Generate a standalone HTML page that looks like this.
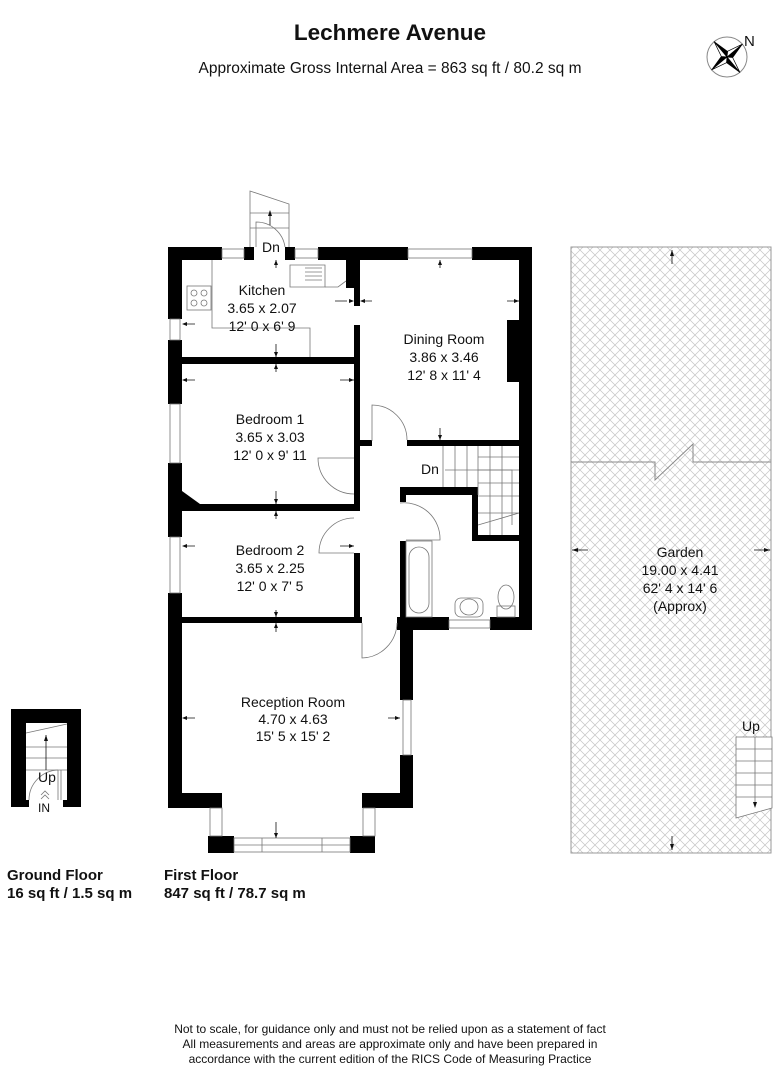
<!DOCTYPE html>
<html><head><meta charset="utf-8"><style>
html,body{margin:0;padding:0;background:#fff;}
svg{display:block}
text{font-family:"Liberation Sans",sans-serif;fill:#111}
</style></head><body>
<svg width="781" height="1080" viewBox="0 0 781 1080" xmlns="http://www.w3.org/2000/svg">
<defs>
<pattern id="hatch" width="10" height="10" patternUnits="userSpaceOnUse">
<path d="M0 0L10 10M10 0L0 10" stroke="#c4c4c4" stroke-width="0.7"/>
</pattern>
</defs>
<text x="390" y="40" font-size="22.5" font-weight="bold" text-anchor="middle">Lechmere Avenue</text>
<text x="390" y="73" font-size="15.5" text-anchor="middle">Approximate Gross Internal Area = 863 sq ft / 80.2 sq m</text>
<!-- compass -->
<circle cx="727" cy="57" r="20" fill="none" stroke="#888" stroke-width="1"/>
<g transform="translate(727 57) rotate(50)" stroke="#000" stroke-width="0.7" stroke-linejoin="round">
<path d="M0 -20L4 -4L0 0z" fill="#000"/><path d="M0 -20L-4 -4L0 0z" fill="#fff"/>
<path d="M20 0L4 4L0 0z" fill="#000"/><path d="M20 0L4 -4L0 0z" fill="#fff"/>
<path d="M0 20L-4 4L0 0z" fill="#000"/><path d="M0 20L4 4L0 0z" fill="#fff"/>
<path d="M-20 0L-4 -4L0 0z" fill="#000"/><path d="M-20 0L-4 4L0 0z" fill="#fff"/>
</g>
<text x="744" y="46" font-size="15">N</text>

<!-- garden -->
<rect x="571" y="247" width="200" height="606" fill="url(#hatch)" stroke="#999" stroke-width="1"/>
<path d="M571 462H655V480L693 444V462H771" fill="none" stroke="#888" stroke-width="1"/>
<line x1="672" y1="250" x2="672" y2="264" stroke="#111" stroke-width="0.8"/>
<path d="M672 250l-2 6h4z" fill="#111"/>
<line x1="672" y1="836" x2="672" y2="850" stroke="#111" stroke-width="0.8"/>
<path d="M672 850l-2-6h4z" fill="#111"/>
<path d="M572 550l6-2v4zM770 550l-6-2v4z" fill="#111"/>
<line x1="572" y1="550" x2="588" y2="550" stroke="#111" stroke-width="0.8"/>
<line x1="770" y1="550" x2="754" y2="550" stroke="#111" stroke-width="0.8"/>
<g font-size="14" text-anchor="middle">
<text x="680" y="557">Garden</text>
<text x="680" y="575">19.00 x 4.41</text>
<text x="680" y="593">62' 4 x 14' 6</text>
<text x="680" y="611">(Approx)</text>
</g>
<g fill="#fff" stroke="#777" stroke-width="0.8">
<path d="M736 737H772V808L736 818z"/>
<path d="M736 749H772M736 761H772M736 773H772M736 785H772M736 797H772M755 737V805" fill="none"/>
</g>
<path d="M755 808l-2-6h4z" fill="#111"/>
<text x="742" y="731" font-size="14">Up</text>

<!-- first floor -->
<g fill="#000">
<rect x="168" y="247" width="54" height="13"/>
<rect x="244" y="247" width="10" height="13"/>
<rect x="285" y="247" width="10" height="13"/>
<rect x="318" y="247" width="90" height="13"/>
<rect x="472" y="247" width="60" height="13"/>
<rect x="168" y="247" width="14" height="72"/>
<rect x="168" y="340" width="14" height="64"/>
<rect x="168" y="463" width="14" height="74"/>
<rect x="168" y="593" width="14" height="215"/>
<rect x="168" y="793" width="54" height="15"/>
<rect x="519" y="247" width="13" height="383"/>
<rect x="507" y="320" width="13" height="62"/>
<rect x="346" y="260" width="14" height="28"/>
<rect x="354" y="288" width="6" height="18"/>
<rect x="354" y="325" width="6" height="178"/>
<rect x="182" y="357" width="178" height="7"/>
<rect x="360" y="440" width="12" height="6"/>
<rect x="407" y="440" width="113" height="6"/>
<path d="M182 491L200 504H354V511H182z"/>
<rect x="354" y="497" width="6" height="14"/>
<rect x="354" y="553" width="6" height="64"/>
<rect x="182" y="617" width="180" height="6"/>
<rect x="400" y="487" width="72" height="8"/>
<rect x="400" y="487" width="6" height="15"/>
<rect x="400" y="541" width="6" height="90"/>
<rect x="472" y="487" width="6" height="54"/>
<rect x="472" y="535" width="48" height="6"/>
<rect x="397" y="617" width="52" height="13"/>
<rect x="490" y="617" width="42" height="13"/>
<rect x="400" y="627" width="13" height="73"/>
<rect x="400" y="755" width="13" height="53"/>
<rect x="362" y="793" width="51" height="15"/>
<rect x="208" y="836" width="26" height="17"/>
<rect x="350" y="836" width="25" height="17"/>
</g>
<g fill="#fff" stroke="#777" stroke-width="0.8">
<rect x="222" y="249" width="22" height="9"/>
<rect x="295" y="249" width="23" height="9"/>
<rect x="408" y="249" width="64" height="9"/>
<rect x="170" y="319" width="10" height="21"/>
<rect x="170" y="404" width="10" height="59"/>
<rect x="170" y="537" width="10" height="56"/>
<rect x="403" y="700" width="8" height="55"/>
<rect x="449" y="620" width="41" height="8"/>
<rect x="210" y="808" width="12" height="28"/>
<rect x="363" y="808" width="12" height="28"/>
<rect x="234" y="838" width="116" height="14"/>
<path d="M234 845H350M262 838V852M322 838V852" fill="none"/>
</g>
<g fill="none" stroke="#777" stroke-width="0.8">
<path d="M212 260V328H310V357"/>
<path d="M290 265H325V287H290z M305 268H322M305 272H322M305 276H322M305 280H322"/>
<path d="M325 287H338L346 281"/>
<rect x="187" y="286" width="24" height="24"/>
<circle cx="194" cy="293" r="3"/><circle cx="204" cy="293" r="3"/><circle cx="194" cy="303" r="3"/><circle cx="204" cy="303" r="3"/>
<path d="M250 247V191L289 204V247M250 213H289M250 228H289"/>
<path d="M256 247V222A29 29 0 0 1 285 247"/>
<path d="M372 441V405A35 35 0 0 1 407 440"/>
<path d="M354 458H318A36 36 0 0 0 354 494"/>
<path d="M400 503A36 36 0 0 1 440 540H406"/>
<path d="M354 553H319A35 35 0 0 1 354 518"/>
<path d="M362 623V658A36 36 0 0 0 397 623"/>
<path d="M443 446V487M455 446V487M467 446V487M478 446V495M490 446V535M502 446V535M478 457H519M478 470H519M478 483H519M478 496H519M478 513H519M478 525L519 513"/>
<path d="M445 470H512V525"/>
<rect x="406" y="541" width="26" height="76"/>
<rect x="409" y="547" width="20" height="66" rx="10"/>
<rect x="455" y="598" width="28" height="19" rx="6"/>
<ellipse cx="469" cy="607" rx="9" ry="8"/>
<ellipse cx="506" cy="597" rx="8" ry="12"/>
<rect x="497" y="606" width="18" height="11"/>
</g>
<g stroke="#111" stroke-width="0.8" fill="none">
<path d="M276 260V268M276 344V357M276 364V372M276 491V504M276 511V519M276 610V617M276 623V632M276 822V838M440 260V268M440 428V440M185 380H195M340 380H354M185 546H195M340 546H354M185 718H195M388 718H400M185 324H195M335 301H347M363 301H372M507 301H519M270 211V225"/>
</g>
<g fill="#111">
<path d="M276 260l-2 5h4zM276 357l-2-5h4zM276 364l-2 5h4zM276 504l-2-5h4zM276 511l-2 5h4zM276 617l-2-5h4zM276 623l-2 5h4zM276 838l-2-5h4zM440 260l-2 5h4zM440 440l-2-5h4zM182 380l5-2v4zM354 380l-5-2v4zM182 546l5-2v4zM354 546l-5-2v4zM182 718l5-2v4zM400 718l-5-2v4zM182 324l5-2v4zM354 301l-5-2v4zM360 301l5-2v4zM519 301l-5-2v4zM270 210l-2 6h4z"/>
</g>
<text x="262" y="252" font-size="14">Dn</text>
<text x="421" y="474" font-size="14">Dn</text>
<g font-size="14" text-anchor="middle">
<text x="262" y="295">Kitchen</text>
<text x="262" y="313">3.65 x 2.07</text>
<text x="262" y="331">12' 0 x 6' 9</text>
<text x="444" y="344">Dining Room</text>
<text x="444" y="362">3.86 x 3.46</text>
<text x="444" y="380">12' 8 x 11' 4</text>
<text x="270" y="424">Bedroom 1</text>
<text x="270" y="442">3.65 x 3.03</text>
<text x="270" y="460">12' 0 x 9' 11</text>
<text x="270" y="555">Bedroom 2</text>
<text x="270" y="573">3.65 x 2.25</text>
<text x="270" y="591">12' 0 x 7' 5</text>
<text x="293" y="707">Reception Room</text>
<text x="293" y="724">4.70 x 4.63</text>
<text x="293" y="741">15' 5 x 15' 2</text>
</g>

<!-- ground floor -->
<g fill="#000">
<rect x="11" y="709" width="70" height="14"/>
<rect x="11" y="709" width="15" height="98"/>
<rect x="67" y="709" width="14" height="98"/>
<rect x="26" y="800" width="3" height="7"/>
<rect x="63" y="800" width="4" height="7"/>
</g>
<g fill="none" stroke="#777" stroke-width="0.8">
<path d="M26 733L67 724M26 747H67M26 758H67M26 770H67M58 770V800M61 770V800"/>
<path d="M29 800A30 30 0 0 1 58 770"/>
<path d="M41 795l4-4 4 4M41 799l4-4 4 4"/>
</g>
<path d="M46 735l-2 6h4z" fill="#111"/>
<line x1="46" y1="735" x2="46" y2="770" stroke="#111" stroke-width="0.8"/>
<text x="38" y="782" font-size="14">Up</text>
<text x="38" y="812" font-size="12">IN</text>

<g font-size="15" font-weight="bold">
<text x="7" y="880">Ground Floor</text>
<text x="7" y="898">16 sq ft / 1.5 sq m</text>
<text x="164" y="880">First Floor</text>
<text x="164" y="898">847 sq ft / 78.7 sq m</text>
</g>
<g font-size="12" text-anchor="middle">
<text x="390" y="1033">Not to scale, for guidance only and must not be relied upon as a statement of fact</text>
<text x="390" y="1048">All measurements and areas are approximate only and have been prepared in</text>
<text x="390" y="1063">accordance with the current edition of the RICS Code of Measuring Practice</text>
</g>
</svg>
</body></html>
